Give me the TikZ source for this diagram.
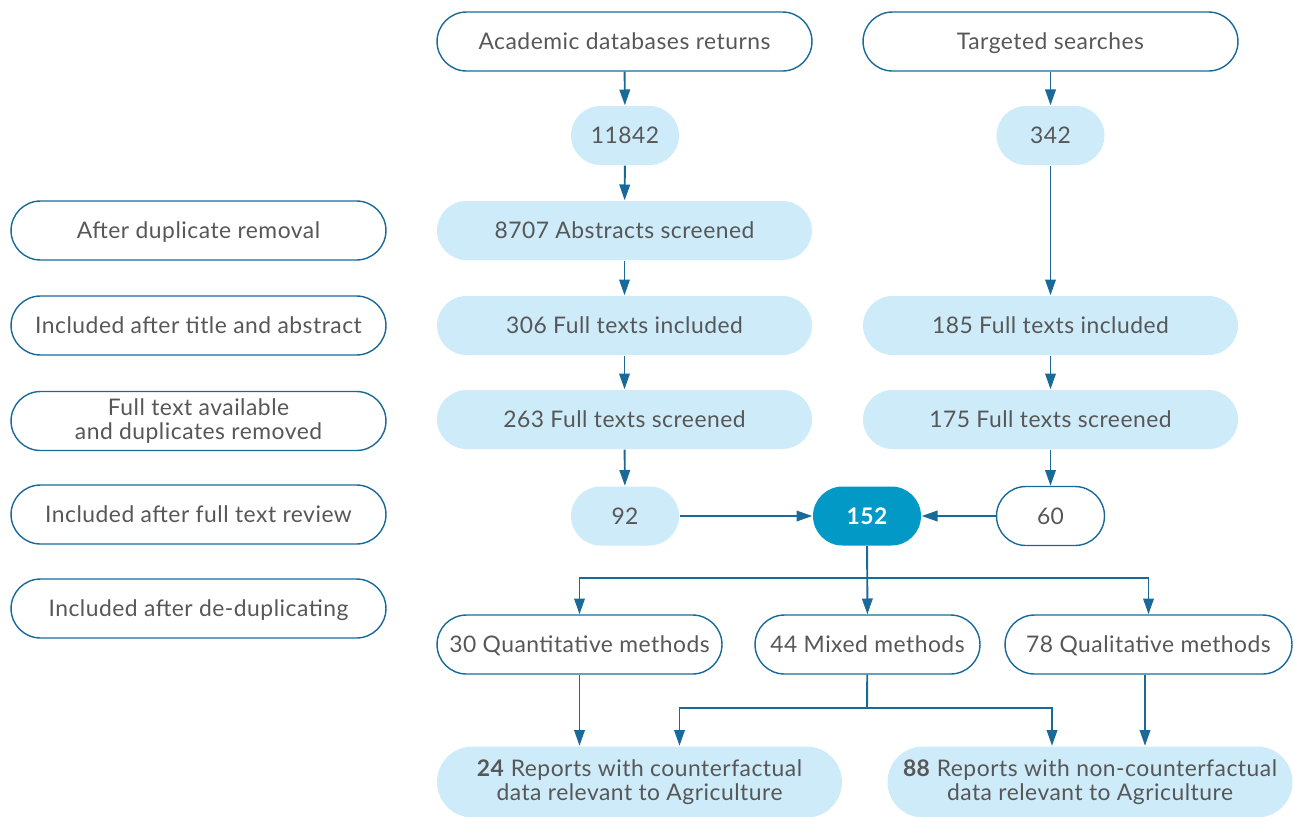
\documentclass[tikz,border=0pt]{standalone}
\usepackage{fontspec}
\setmainfont{Lato}[LetterSpace=2.2]
\usetikzlibrary{arrows.meta,positioning}
\definecolor{lineblue}{HTML}{1A6A99}
\definecolor{paleblue}{HTML}{CDEBF9}
\definecolor{deepblue}{HTML}{0399C6}
\definecolor{greytext}{HTML}{575757}

\begin{document}
\begin{tikzpicture}[x=0.02cm, y=-0.02cm,
    pill/.style={draw=lineblue, line width=0.8pt, rounded corners=0.59cm, minimum height=1.18cm,
        inner sep=0pt, align=center, text=greytext, font=\fontsize{13}{13.8}\selectfont},
    oneline/.style={text height=9.2pt, text depth=0pt},
    wide/.style={pill, oneline, minimum width=7.5cm},
    tint/.style={fill=paleblue, draw=none},
    short/.style={oneline, minimum width=2.16cm},
    report/.style={pill, tint, minimum height=1.42cm, rounded corners=0.71cm, minimum width=8.1cm},
    arr/.style={-{Triangle[length=9pt,width=6pt]}, line width=1.1pt, lineblue},
    plain/.style={line width=1.1pt, lineblue}
]
\useasboundingbox (0,0) rectangle (1295,816);

% left column
\node[wide] (dup)  at (198.5,230.5) {After duplicate removal};
\node[wide] (ta)   at (198.5,325.5) {Included after title and abstract};
\node[pill, minimum width=7.5cm] (ftav) at (198.5,421) {Full text available\\and duplicates removed};
\node[wide] (ftr)  at (198.5,514.5) {Included after full text review};
\node[wide] (dedup) at (198.5,608.5) {Included after de-duplicating};

% academic branch
\node[wide] (acad) at (624.5,41.5) {Academic databases returns};
\node[pill, tint, short] (a11842) at (625,135.5) {11842};
\node[wide, tint] (a8707) at (624.5,230.5) {8707 Abstracts screened};
\node[wide, tint] (a306) at (624.5,325.5) {306 Full texts included};
\node[wide, tint] (a263) at (624.5,419.5) {263 Full texts screened};
\node[pill, tint, short] (a92) at (625,516) {92};

% targeted branch
\node[wide] (targ) at (1050.5,41.5) {Targeted searches};
\node[pill, tint, short] (t342) at (1050.5,135.5) {342};
\node[wide, tint] (t185) at (1050.5,325.5) {185 Full texts included};
\node[wide, tint] (t175) at (1050.5,419.5) {175 Full texts screened};
\node[pill, short] (t60) at (1050.5,516) {60};

% merged
\node[pill, short, fill=deepblue, draw=none, text=white, font=\fontsize{13}{13.8}\selectfont\bfseries] (total) at (867,516) {152};

\node[pill, oneline, minimum width=5.7cm] (quant) at (579.5,644.5) {30 Quantitative methods};
\node[pill, oneline, minimum width=4.5cm] (mixed) at (867.5,644.5) {44 Mixed methods};
\node[pill, oneline, minimum width=5.74cm] (qual) at (1148.5,644.5) {78 Qualitative methods};

\node[report] (cf)  at (639.5,782) {\textbf{24} Reports with counterfactual\\data relevant to Agriculture};
\node[report] (ncf) at (1090,782) {\textbf{88} Reports with non-counterfactual\\data relevant to Agriculture};

\draw[arr] (acad) -- (a11842);
\draw[arr] (a11842) -- (a8707);
\draw[arr] (a8707) -- (a306);
\draw[arr] (a306) -- (a263);
\draw[arr] (a263) -- (a92);
\draw[arr] (targ) -- (t342);
\draw[arr] (t342) -- (t185);
\draw[arr] (t185) -- (t175);
\draw[arr] (t175) -- (t60);
\draw[arr] (a92) -- (total);
\draw[arr] (t60) -- (total);

\coordinate (fork) at (867,578);
\draw[arr] (total) -- (mixed);
\draw[arr] (fork) -| (quant);
\draw[arr] (fork) -| (qual);

\coordinate (mfork) at (867,708);
\draw[plain] (mixed) -- (mfork);
\draw[arr] (mfork) -| ([xshift=0.8cm]cf.north);
\draw[arr] (mfork) -| ([xshift=-0.76cm]ncf.north);
\draw[arr] (quant) -- (quant |- cf.north);
\draw[arr] ([xshift=-0.07cm]qual.south) -- ([xshift=-0.07cm]qual.south |- ncf.north);
\end{tikzpicture}
\end{document}
